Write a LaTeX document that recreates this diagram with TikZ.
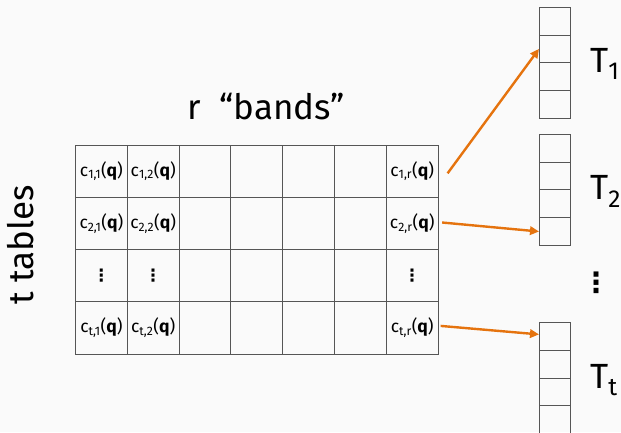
\documentclass[tikz,border=0pt]{standalone}
\usepackage{fontspec}
\setmainfont{Fira Sans}
\newfontfamily\dotsfont{DejaVu Sans}
\usetikzlibrary{arrows.meta}
\definecolor{bgc}{HTML}{FAFAFA}
\definecolor{gridc}{HTML}{555555}
\definecolor{arrc}{HTML}{E5730E}
\begin{document}
\begin{tikzpicture}[x=1pt,y=-1pt,
  cell/.style={draw=gridc, line width=1pt, minimum width=51.8pt, minimum height=52.2pt, inner sep=0pt, anchor=north west},
  tcell/.style={draw=gridc, line width=1pt, minimum width=31pt, minimum height=27.8pt, inner sep=0pt, anchor=north west},
  celltxt/.style={inner sep=0pt, font=\fontsize{17.5}{20}\selectfont},
  celldots/.style={inner sep=0pt, font=\dotsfont\bfseries\fontsize{17}{20}\selectfont},
  big/.style={inner sep=0pt, font=\fontsize{35}{40}\selectfont},
  arrowline/.style={draw=arrc, line width=2.4pt, -{Triangle[length=9pt,width=8.5pt]}}]
\fill[bgc] (0,0) rectangle (621,432);
\useasboundingbox (0,0) rectangle (621,432);
% main grid
\foreach \i in {1,...,4}{
  \foreach \j in {1,...,7}{
    \node[cell] (c-\i-\j) at ({75+(\j-1)*51.8},{144.7+(\i-1)*52.2}) {};
  }
}
\foreach \i/\a in {1/1,2/2,4/t}{
  \foreach \j/\b in {1/1,2/2,7/r}{
    \node[celltxt] (x-\i-\j) at (c-\i-\j) {c\textsubscript{\a,\b}(\textbf{q})};
  }
}
\foreach \j in {1,2,7}{
  \node[celldots] (d-\j) at (c-3-\j) {⋮};
}
% hash tables
\foreach \k/\y in {1/6.7,2/133.7,3/322}{
  \foreach \m in {1,...,4}{
    \node[tcell] (t-\k-\m) at (539,{\y+(\m-1)*27.8}) {};
  }
}
\node[big, anchor=base west] (L1) at (590,72) {T\textsubscript{1}};
\node[big, anchor=base west] (L2) at (590,199) {T\textsubscript{2}};
\node[big, anchor=base west] (L3) at (590,388) {T\textsubscript{t}};
\node[celldots, font=\dotsfont\bfseries\fontsize{28}{30}\selectfont] (vd) at (596,283) {⋮};
% titles
\node[big, anchor=base] (title) at (266,119) {r \ “bands”};
\node[big, rotate=90, anchor=base] (side) at (33,245) {t tables};
% arrows
\draw[arrowline] ([xshift=9pt,yshift=-2pt]c-1-7.east) -- (t-1-2.west);
\draw[arrowline] ([xshift=3.5pt,yshift=1pt]c-2-7.east) -- (t-2-4.west);
\draw[arrowline] ([xshift=2pt,yshift=2pt]c-4-7.east) -- ([yshift=2pt]t-3-1.west);
\end{tikzpicture}
\end{document}
